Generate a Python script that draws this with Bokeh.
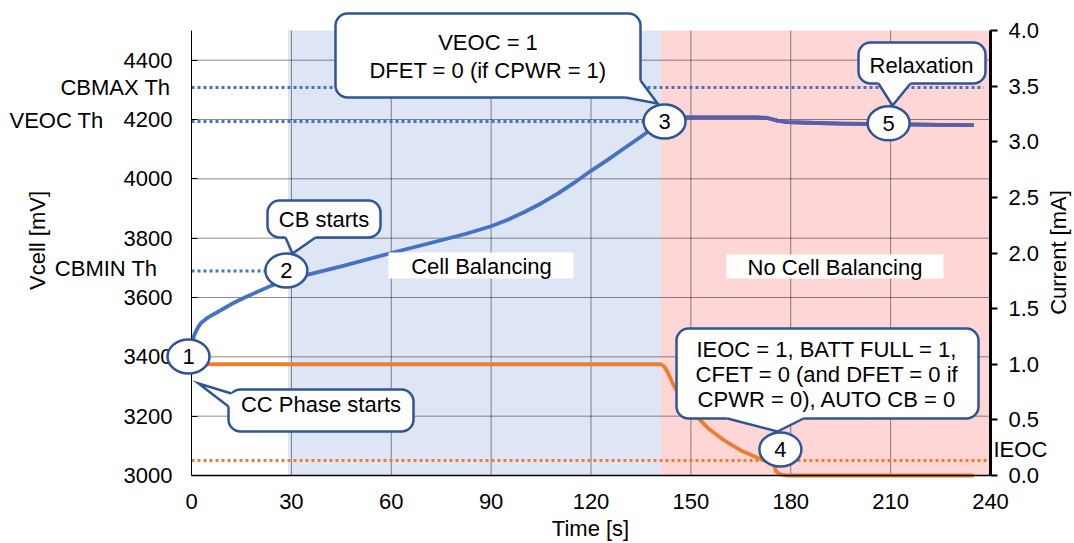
import math
from bokeh.plotting import figure
from bokeh.models import (Range1d, LinearAxis, FixedTicker, PrintfTickFormatter, Label, BoxAnnotation)
from bokeh.core.properties import value
from bokeh.embed import file_html
from bokeh.resources import INLINE

# ---------------- data ----------------
time_v = [0, 0.5, 1, 2, 3, 5, 8, 12, 16, 20, 24, 28, 35, 45, 60, 75, 82.5, 90, 95, 100, 105, 110, 115,
          120, 125, 130, 135, 139, 141, 150, 160, 170, 173, 176, 179, 185, 195, 210, 225, 235]
vcell = [3445, 3462, 3478, 3500, 3516, 3533, 3552, 3578, 3600, 3620, 3640, 3658, 3677, 3705, 3750,
         3793, 3815, 3840, 3862, 3888, 3917, 3950, 3987, 4027, 4064, 4103, 4142, 4175, 4206,
         4207, 4207, 4207, 4205, 4196, 4191, 4189, 4186, 4184, 4182, 4181]

time_i = [0, 141, 142, 143, 145, 147, 150, 155, 160, 165, 170, 175, 175.5, 176.5, 178, 179, 235]
current = [1.0, 1.0, 0.98, 0.93, 0.80, 0.70, 0.585, 0.43, 0.315, 0.225, 0.16, 0.105, 0.04, 0.015, 0.003, 0.0, 0.0]

thr_names = ["CBMAX Th", "VEOC Th", "CBMIN Th"]
thr_values = [4308, 4193, 3689]
thr_end = [238, 141, 28]
ieoc_name = "IEOC"
ieoc_value = 0.135

phase_names = ["Cell Balancing", "No Cell Balancing"]
phase_start = [29, 141]
phase_end = [141, 240]

event_ids = ["1", "2", "3", "4", "5"]
event_t = [-0.9, 28.5, 142.1, 176.9, 209.4]
event_v = [3401, 3691, 4193, 3088, 4187]

x_ticks = [0, 30, 60, 90, 120, 150, 180, 210, 240]
v_ticks = [3000, 3200, 3400, 3600, 3800, 4000, 4200, 4400]
i_ticks = [0.0, 0.5, 1.0, 1.5, 2.0, 2.5, 3.0, 3.5, 4.0]

callout_texts = ["CB starts", "VEOC = 1\nDFET = 0 (if CPWR = 1)", "Relaxation", "CC Phase starts",
                 "IEOC = 1, BATT FULL = 1,\nCFET = 0 (and DFET = 0 if\nCPWR = 0), AUTO CB = 0"]

# ---------------- layout / styling ----------------
FONT = "Liberation Sans"
FS = "22px"
EDGE = "#2F5597"
BLUE = "#4472C4"
BLUE2 = "#5A5FAA"
ORANGE = "#ED7D31"

W, H = 1074, 543
PX_X0, PX_X1 = 191, 990      # pixel of x=0 and x=240
PX_Y0, PX_Y1 = 475, 30       # pixel of 3000 mV and 4500 mV
XS = 240 / (PX_X1 - PX_X0)
YS = 1500 / (PX_Y0 - PX_Y1)
IS = 4 / (PX_Y0 - PX_Y1)
x_start, x_end = -PX_X0 * XS, 240 + (W - PX_X1) * XS
y_start, y_end = 3000 - (H - PX_Y0) * YS, 4500 + PX_Y1 * YS
i_start, i_end = -(H - PX_Y0) * IS, 4 + PX_Y1 * IS


def dx(px):
    return x_start + px * XS


def dy(py):
    return y_end - py * YS


p = figure(width=W, height=H, x_range=Range1d(x_start, x_end), y_range=Range1d(y_start, y_end),
           output_backend="svg", toolbar_location=None, title=None,
           min_border_left=0, min_border_right=0, min_border_top=0, min_border_bottom=0)
p.extra_y_ranges = {"cur": Range1d(i_start, i_end)}
p.outline_line_color = None
p.xgrid.grid_line_color = None
p.ygrid.grid_line_color = None

# shaded phases
p.quad(left=phase_start, right=phase_end, bottom=3000, top=4500,
       fill_color=["#DEE5F4", "#FFD6D6"], line_color=None, level="image")

# grid lines (from the tick arrays)
p.segment(x0=x_ticks[1:-1], y0=3000, x1=x_ticks[1:-1], y1=4500,
          line_color="black", line_alpha=0.45, line_width=1, level="underlay")
p.segment(x0=0, y0=v_ticks[1:], x1=240, y1=v_ticks[1:],
          line_color="black", line_alpha=0.45, line_width=1, level="underlay")

# axes
xa = p.xaxis[0]
xa.fixed_location = 3000
xa.bounds = (0, 240)
xa.ticker = FixedTicker(ticks=x_ticks)
xa.major_tick_in = 0
xa.major_tick_out = 0
xa.major_label_standoff = 18
xa.axis_line_width = 1.5

ya = p.yaxis[0]
ya.fixed_location = 0
ya.bounds = (3000, 4500)
ya.ticker = FixedTicker(ticks=v_ticks)
ya.major_tick_in = 6
ya.major_tick_out = 0
ya.major_label_standoff = 19

ra = LinearAxis(y_range_name="cur", ticker=FixedTicker(ticks=i_ticks),
                formatter=PrintfTickFormatter(format="%.1f"))
ra.fixed_location = 240
ra.bounds = (0, 4)
ra.major_tick_in = 0
ra.major_tick_out = 7
ra.major_tick_line_width = 2
ra.axis_line_width = 3
ra.major_label_standoff = 11
p.add_layout(ra, "right")

for ax in (xa, ya, ra):
    ax.minor_tick_in = 0
    ax.minor_tick_out = 0
    ax.axis_line_color = "black"
    ax.major_tick_line_color = "black"
    ax.major_label_text_font = FONT
    ax.major_label_text_font_size = FS
    ax.major_label_text_color = "black"

# threshold lines
p.segment(x0=[0] * len(thr_values), y0=thr_values, x1=thr_end, y1=thr_values,
          line_color=BLUE, line_width=3, line_dash="3 3")
p.segment(x0=[0], y0=[ieoc_value], x1=[240], y1=[ieoc_value], y_range_name="cur",
          line_color=ORANGE, line_width=3, line_dash="3 3")

# series
p.line(time_i, current, y_range_name="cur", line_color=ORANGE, line_width=3.8, line_join="round")
p.line(time_v, vcell, line_color=BLUE, line_width=3.8, line_join="round")
tv2 = [t for t in time_v if t >= 141]
vv2 = [v for t, v in zip(time_v, vcell) if t >= 141]
p.line(tv2, vv2, line_color=BLUE2, line_width=3.8, line_join="round")


def label(txt, px, py, align="center", angle=0.0):
    p.add_layout(Label(x=dx(px), y=dy(py), text=txt, text_align=align, text_baseline="middle",
                       angle=angle, text_font=FONT, text_font_size=FS, text_color="black"))


def box(l, r, t, b, border=True):
    p.add_layout(BoxAnnotation(left=dx(l), right=dx(r), top=dy(t), bottom=dy(b),
                               fill_color="white", fill_alpha=1.0,
                               line_color=EDGE if border else None, line_alpha=1.0, line_width=2.5,
                               border_radius=12 if border else 0))


# phase labels on white
phase_boxes = [(388, 573, 252, 278), (726, 943, 254, 278)]
phase_text_pos = [(481, 265.5), (834.5, 267)]
for name, bx, (cx, cy) in zip(phase_names, phase_boxes, phase_text_pos):
    box(*bx, border=False)
    label(name, cx, cy)

# callouts
callout_boxes = [(267, 380, 200, 237), (335, 640, 13, 97), (858, 985, 42, 83),
                 (228, 413, 389, 431), (676, 978, 328, 418)]
callout_lines_y = [[218.5], [41.7, 69.5], [64.5], [403.5], [348.5, 374, 398.5]]
callout_cx = [323.5, 487.5, 921, 320.5, 826.5]
for txt, bx, ys, cx in zip(callout_texts, callout_boxes, callout_lines_y, callout_cx):
    box(*bx)
    for line_txt, cy in zip(txt.split("\n"), ys):
        label(line_txt, cx, cy)

# numbered event markers (above axes and lines)
p.ellipse(x=event_t, y=event_v, width=42, height=34, width_units="screen", height_units="screen",
          fill_color="white", line_color=EDGE, line_width=2.5, level="overlay")
p.text(x=event_t, y=event_v, text=event_ids, text_align="center", text_baseline="middle",
       text_font=value(FONT), text_font_size=value(FS), text_color="black", level="overlay")

# callout tails (pixel geometry converted to data)
tails = [
    ((285, 237), (292, 253), (315, 237), (0, -4), (0, -4)),
    ((625, 97), (657, 103), (640, 80), (0, -4), (-4, 0)),
    ((878, 83), (892, 105), (910, 83), (0, -4), (0, -4)),
    ((231, 393), (198, 383), (228, 406), (4, 0), (4, 0)),
    ((727, 418), (777, 431), (803, 418), (0, -4), (0, -4)),
]
for b1, t, b2, n1, n2 in tails:
    b1i = (b1[0] + n1[0], b1[1] + n1[1])
    b2i = (b2[0] + n2[0], b2[1] + n2[1])
    pts = [b1i, b1, t, b2, b2i]
    p.patch([dx(a) for a, _ in pts], [dy(b) for _, b in pts], fill_color="white", line_color=None,
            level="overlay")
    ln = [b1, t, b2]
    p.line([dx(a) for a, _ in ln], [dy(b) for _, b in ln], line_color=EDGE, line_width=2.5,
           line_join="miter", level="overlay")

# threshold names and axis titles
label(thr_names[0], 170, 86.5, "right")
label(thr_names[1], 9, 119.5, "left")
label(thr_names[2], 157, 267.5, "right")
label(ieoc_name, 993, 448.5, "left")
label("Time [s]", 590, 527.5)
label("Vcell [mV]", 36.5, 240, angle=math.pi / 2)
label("Current [mA]", 1058, 252, angle=math.pi / 2)

open("out.html", "w").write(file_html(p, INLINE))
